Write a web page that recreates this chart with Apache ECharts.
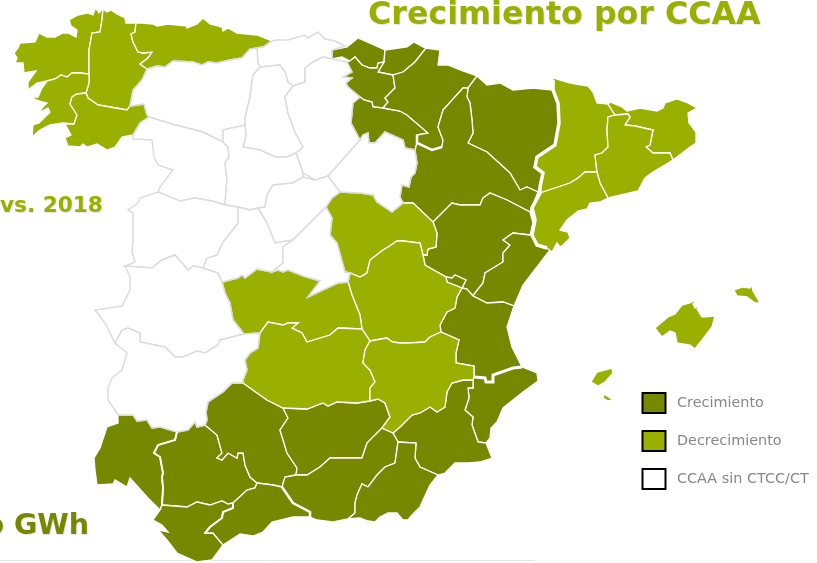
<!DOCTYPE html>
<html>
<head>
<meta charset="utf-8">
<style>html,body{margin:0;padding:0;background:#fff}#chart{width:817px;height:563px}</style>
<script src="https://cdn.jsdelivr.net/npm/echarts@6/dist/echarts.min.js"></script>
</head>
<body>
<div id="chart"></div>
<script>
const crecimiento = ['Bizkaia', 'Gipuzkoa', 'Álava', 'La Rioja', 'Navarra', 'Huesca', 'Zaragoza', 'Teruel', 'Castellón', 'Valencia', 'Rincón de Ademuz', 'Alicante', 'Murcia', 'Huelva', 'Sevilla', 'Córdoba', 'Jaén', 'Cádiz', 'Málaga', 'Granada', 'Almería']
const decrecimiento = ['A Coruña', 'Lugo', 'Asturias', 'Pontevedra', 'Ourense', 'Lleida', 'Girona', 'Barcelona', 'Tarragona', 'Mallorca', 'Menorca', 'Ibiza', 'Formentera', 'Guadalajara', 'Cuenca', 'Toledo', 'Ciudad Real', 'Albacete']
const sinCtcc = ['Cantabria', 'León', 'Palencia', 'Burgos', 'Soria', 'Zamora', 'Valladolid', 'Segovia', 'Ávila', 'Salamanca', 'Madrid', 'Cáceres', 'Badajoz']
const legendLabels = ['Crecimiento', 'Decrecimiento', 'CCAA sin CTCC/CT']

// contornos de provincias (calcados en pixeles)
const coruna = [[95,9],[93,15],[87,13],[78,15],[69,20],[71,26],[77,30],[76,37],[68,33],[63,33],[55,37],[47,37],[39,33],[35,42],[20,43],[18,48],[14,53],[17,58],[15,63],[23,63],[24,73],[36,71],[28,82],[28,90],[37,83],[47,81],[55,79],[61,75],[67,77],[72,73],[80,73],[89,74],[89,68],[89,50],[92,33],[100,32],[102,20],[103,8],[99,13],[97,10]]
const lugo = [[103,9],[107,12],[111,10],[117,14],[125,18],[126,23],[136,23],[135,32],[131,34],[133,42],[138,52],[143,53],[152,52],[148,58],[140,64],[147,69],[142,80],[133,90],[130,106],[127,110],[110,107],[98,105],[88,98],[86,93],[89,83],[89,74],[89,68],[89,50],[92,33],[100,32],[102,20]]
const asturias = [[136,23],[142,23],[153,24],[157,26],[168,24],[187,26],[187,28],[197,24],[203,18],[210,24],[222,27],[223,31],[228,28],[237,33],[257,35],[272,41],[263,47],[257,48],[250,49],[242,58],[230,60],[217,63],[208,62],[202,65],[193,62],[173,61],[165,67],[157,66],[147,69],[140,64],[148,58],[152,52],[143,53],[138,52],[133,42],[131,34],[135,32]]
const pontevedra = [[47,81],[55,79],[61,75],[67,77],[72,73],[80,73],[89,74],[89,83],[86,93],[77,94],[72,97],[70,104],[77,115],[74,124],[63,123],[50,125],[40,130],[32,137],[33,125],[39,123],[45,117],[50,112],[48,108],[38,113],[43,107],[47,103],[39,101],[30,97],[38,97],[42,88]]
const ourense = [[86,93],[88,98],[98,105],[110,107],[127,110],[130,106],[144,104],[147,115],[149,117],[140,123],[133,135],[122,137],[115,147],[107,150],[97,144],[87,147],[83,144],[80,147],[68,146],[65,138],[71,135],[65,124],[74,124],[77,115],[70,104],[72,97],[77,94]]
const cantabria = [[272,41],[277,40],[288,40],[305,35],[308,38],[318,32],[325,39],[335,41],[345,46],[332,50],[332,59],[323,57],[313,62],[305,68],[305,82],[293,86],[288,82],[285,72],[280,65],[260,67],[258,63],[257,48],[263,47]]
const leon = [[147,69],[157,66],[165,67],[173,61],[193,62],[202,65],[208,62],[217,63],[230,60],[242,58],[250,49],[257,48],[258,63],[260,67],[253,75],[250,97],[245,118],[245,125],[223,130],[223,142],[213,137],[203,132],[172,124],[149,117],[147,115],[144,104],[130,106],[133,90],[142,80]]
const palencia = [[260,67],[280,65],[285,72],[288,82],[293,86],[285,97],[288,113],[295,132],[303,147],[296,153],[287,157],[275,157],[260,150],[243,147],[246,135],[245,125],[245,118],[250,97],[253,75]]
const burgos = [[293,86],[305,82],[305,68],[313,62],[323,57],[332,59],[347,62],[352,72],[343,77],[352,78],[346,83],[348,87],[360,97],[353,103],[351,123],[360,140],[345,157],[328,176],[315,180],[303,173],[296,153],[303,147],[295,132],[288,113],[285,97]]
const soria = [[360,140],[363,135],[368,133],[369,143],[375,143],[385,132],[403,140],[405,148],[415,150],[417,163],[415,173],[411,177],[409,187],[402,185],[400,197],[403,203],[392,212],[377,202],[373,195],[360,193],[340,192],[328,176],[345,157]]
const zamora = [[149,117],[172,124],[203,132],[213,137],[223,142],[228,147],[229,157],[225,163],[227,180],[226,190],[225,205],[212,201],[195,198],[190,199],[180,201],[158,192],[160,187],[173,170],[158,165],[154,157],[152,140],[133,139],[133,135],[140,123]]
const valladolid = [[223,130],[245,125],[246,135],[243,147],[260,150],[275,157],[287,157],[296,153],[303,173],[303,177],[293,183],[273,185],[267,195],[265,207],[258,208],[250,210],[238,207],[225,205],[226,190],[227,180],[225,163],[229,157],[228,147],[223,142]]
const segovia = [[258,208],[265,207],[267,195],[273,185],[293,183],[303,177],[315,180],[328,176],[340,192],[332,198],[326,207],[293,240],[275,243],[267,223]]
const avila = [[238,207],[250,210],[258,208],[267,223],[275,243],[293,240],[283,247],[283,263],[272,272],[262,270],[257,269],[245,278],[242,275],[238,278],[222,282],[218,273],[203,268],[207,258],[217,255],[223,242],[238,223]]
const madrid = [[293,240],[326,207],[332,218],[330,235],[337,243],[345,272],[350,273],[348,282],[338,283],[323,290],[308,297],[320,281],[303,276],[288,270],[283,272],[278,270],[272,272],[283,263],[283,247]]
const salamanca = [[158,192],[180,201],[190,199],[195,198],[212,201],[225,205],[238,207],[238,223],[223,242],[217,255],[207,258],[203,268],[193,266],[188,270],[175,255],[162,260],[152,268],[125,266],[135,262],[132,252],[133,240],[133,213],[128,210],[138,203],[140,198]]
const caceres = [[125,266],[152,268],[162,260],[175,255],[188,270],[193,266],[203,268],[218,273],[222,282],[225,293],[230,303],[233,320],[244,334],[220,340],[218,345],[205,353],[197,351],[183,357],[175,357],[165,347],[140,342],[140,333],[128,328],[122,330],[115,343],[105,323],[95,310],[122,306],[130,290],[130,277]]
const badajoz = [[115,343],[122,330],[128,328],[140,333],[140,342],[165,347],[175,357],[183,357],[197,351],[205,353],[218,345],[220,340],[244,334],[260,333],[258,348],[250,353],[245,360],[247,370],[243,380],[243,383],[232,383],[223,392],[208,402],[206,412],[207,420],[205,425],[197,427],[195,422],[188,430],[177,432],[160,427],[152,428],[147,420],[137,421],[133,415],[125,415],[118,415],[113,407],[108,400],[108,388],[112,378],[122,370],[127,353]]
const toledo = [[222,282],[238,278],[242,275],[245,278],[257,269],[262,270],[272,272],[278,270],[283,272],[288,270],[303,276],[320,281],[308,297],[323,290],[338,283],[348,282],[352,295],[360,315],[362,329],[338,328],[330,335],[307,342],[302,333],[292,328],[298,323],[288,323],[283,325],[268,322],[260,333],[244,334],[233,320],[230,303],[225,293]]
const ciudadReal = [[260,333],[268,322],[283,325],[288,323],[298,323],[292,328],[302,333],[307,342],[330,335],[338,328],[362,329],[370,341],[365,350],[363,363],[370,370],[375,382],[370,388],[370,401],[357,403],[337,402],[328,406],[323,403],[307,409],[283,408],[267,400],[250,388],[243,383],[243,380],[247,370],[245,360],[250,353],[258,348]]
const guadalajara = [[326,207],[332,198],[340,192],[360,193],[373,195],[377,202],[392,212],[403,203],[413,203],[433,222],[437,233],[436,247],[428,249],[427,255],[423,255],[420,243],[403,241],[397,241],[388,247],[383,250],[370,260],[367,273],[360,277],[350,273],[345,272],[337,243],[330,235],[332,218]]
const cuenca = [[423,255],[425,265],[446,277],[447,282],[462,288],[457,297],[455,308],[447,312],[440,325],[441,332],[430,337],[425,342],[408,343],[400,343],[392,342],[387,338],[370,341],[362,329],[360,315],[352,295],[348,282],[350,273],[360,277],[367,273],[370,260],[383,250],[388,247],[397,241],[403,241],[420,243]]
const albacete = [[370,341],[387,338],[392,342],[400,343],[408,343],[425,342],[430,337],[441,332],[459,340],[456,353],[456,363],[474,366],[474,377],[473,380],[463,380],[452,383],[447,392],[445,407],[437,412],[430,407],[420,413],[412,415],[400,427],[393,433],[382,428],[390,417],[385,403],[378,399],[370,401],[370,388],[375,382],[370,370],[363,363],[365,350]]
const bizkaia = [[332,50],[347,47],[358,38],[367,42],[385,50],[384,62],[378,63],[377,68],[370,68],[362,65],[355,57],[350,61],[342,57],[332,59]]
const gipuzkoa = [[385,50],[407,47],[414,42],[423,47],[426,48],[415,62],[403,72],[393,75],[378,72],[384,62]]
const alava = [[355,57],[362,65],[370,68],[377,68],[378,63],[384,62],[378,72],[393,75],[395,88],[385,98],[388,102],[383,108],[373,107],[372,102],[364,100],[360,97],[348,87],[346,83],[352,78],[343,77],[352,72],[347,62],[350,61]]
const laRioja = [[360,97],[353,103],[351,123],[360,140],[363,135],[368,133],[369,143],[375,143],[385,132],[403,140],[405,148],[415,150],[417,143],[417,135],[428,133],[407,115],[400,111],[383,108],[373,107],[372,102],[364,100]]
const navarra = [[426,48],[440,50],[438,65],[448,65],[460,70],[477,76],[468,88],[463,88],[443,110],[438,127],[443,140],[442,147],[432,150],[417,143],[417,135],[428,133],[407,115],[400,111],[383,108],[388,102],[385,98],[395,88],[393,75],[403,72],[415,62]]
const huesca = [[477,76],[487,85],[500,83],[513,90],[533,88],[553,90],[558,103],[559,123],[555,145],[537,157],[535,167],[543,173],[540,187],[538,192],[527,187],[520,190],[510,173],[498,162],[487,152],[468,143],[473,133],[472,120],[470,103],[467,97],[468,88]]
const zaragoza = [[415,150],[417,143],[432,150],[442,147],[443,140],[438,127],[443,110],[463,88],[468,88],[467,97],[470,103],[472,120],[473,133],[468,143],[487,152],[498,162],[510,173],[520,190],[527,187],[538,192],[530,212],[507,200],[490,193],[483,198],[480,205],[460,205],[452,203],[440,215],[433,222],[413,203],[403,203],[400,197],[402,185],[409,187],[411,177],[415,173],[417,163]]
const teruel = [[433,222],[440,215],[452,203],[460,205],[480,205],[483,198],[490,193],[507,200],[530,212],[533,223],[530,235],[513,233],[503,240],[510,245],[503,253],[503,262],[485,273],[483,283],[475,293],[473,296],[467,289],[462,288],[466,280],[455,275],[452,278],[446,277],[425,265],[423,255],[427,255],[428,249],[436,247],[437,233]]
const ademuz = [[446,277],[452,278],[455,275],[466,280],[462,288],[447,282]]
const castellon = [[530,235],[513,233],[503,240],[510,245],[503,253],[503,262],[485,273],[483,283],[475,293],[473,296],[487,303],[503,302],[514,306],[523,285],[540,263],[550,250],[547,248],[537,245],[532,235]]
const valencia = [[462,288],[467,289],[473,296],[487,303],[503,302],[514,306],[507,327],[512,347],[522,367],[513,368],[493,375],[493,382],[486,382],[485,378],[474,377],[474,366],[456,363],[456,353],[459,340],[441,332],[440,325],[447,312],[455,308],[457,297]]
const alicante = [[522,367],[537,373],[538,381],[523,392],[503,408],[497,422],[491,428],[490,438],[486,443],[478,442],[472,425],[473,417],[465,410],[469,398],[468,388],[473,388],[473,380],[474,377],[485,378],[486,382],[493,382],[493,375],[513,368]]
const murcia = [[473,380],[473,388],[468,388],[469,398],[465,410],[473,417],[472,425],[478,442],[486,443],[492,458],[480,462],[468,463],[455,463],[445,473],[438,475],[420,467],[415,458],[416,443],[398,442],[393,433],[400,427],[412,415],[420,413],[430,407],[437,412],[445,407],[447,392],[452,383],[463,380]]
const jaen = [[283,408],[307,409],[323,403],[328,406],[337,402],[357,403],[370,401],[378,399],[385,403],[390,417],[382,428],[367,443],[362,458],[347,458],[330,458],[320,467],[307,475],[296,475],[297,468],[287,453],[280,430],[288,418]]
const granada = [[382,428],[393,433],[398,442],[395,463],[385,467],[377,475],[368,487],[362,484],[357,495],[355,503],[355,513],[348,519],[333,522],[317,520],[310,517],[310,512],[293,503],[282,487],[285,477],[296,475],[307,475],[320,467],[330,458],[347,458],[362,458],[367,443]]
const almeria = [[398,442],[416,443],[415,458],[420,467],[438,475],[430,485],[423,500],[420,507],[412,515],[408,520],[403,520],[397,513],[388,513],[380,517],[375,522],[368,521],[360,518],[348,519],[355,513],[355,503],[357,495],[362,484],[368,487],[377,475],[385,467],[395,463]]
const cordoba = [[232,383],[243,383],[250,388],[267,400],[283,408],[288,418],[280,430],[287,453],[297,468],[296,475],[285,477],[282,487],[273,485],[257,483],[250,477],[245,465],[243,453],[238,453],[237,458],[228,453],[222,460],[217,458],[222,453],[217,435],[205,425],[207,420],[206,412],[208,402],[223,392]]
const sevilla = [[205,425],[217,435],[222,453],[217,458],[222,460],[228,453],[237,458],[238,453],[243,453],[245,465],[250,477],[257,483],[255,488],[247,490],[233,503],[228,504],[222,501],[210,505],[197,502],[187,507],[162,505],[163,488],[162,477],[163,473],[160,457],[154,453],[158,445],[175,440],[177,432],[188,430],[195,422],[197,427]]
const huelva = [[118,415],[125,415],[133,415],[137,421],[147,420],[152,428],[160,427],[177,432],[175,440],[158,445],[154,453],[160,457],[163,473],[162,477],[163,488],[162,505],[160,510],[148,498],[130,478],[127,487],[115,480],[113,484],[97,485],[95,470],[94,458],[100,448],[107,427],[118,423]]
const cadiz = [[162,505],[187,507],[197,502],[210,505],[222,501],[228,504],[233,503],[233,508],[223,512],[222,518],[210,527],[205,533],[213,533],[223,545],[212,560],[197,562],[177,553],[167,540],[158,530],[168,532],[162,525],[153,520],[160,510]]
const malaga = [[233,503],[247,490],[255,488],[257,483],[273,485],[282,487],[293,503],[310,512],[310,517],[293,517],[272,522],[263,532],[253,536],[240,534],[223,545],[213,533],[205,533],[210,527],[222,518],[223,512],[233,508]]
const lleida = [[553,78],[570,83],[588,86],[593,92],[597,103],[608,104],[615,115],[608,117],[607,130],[608,147],[602,153],[595,155],[597,172],[585,172],[578,178],[570,183],[555,188],[540,193],[538,192],[540,187],[543,173],[535,167],[537,157],[555,145],[559,123],[558,103],[553,90]]
const tarragona = [[540,193],[555,188],[570,183],[578,178],[585,172],[597,172],[600,183],[608,198],[600,202],[590,203],[587,209],[578,211],[567,220],[560,230],[568,232],[570,238],[563,245],[560,247],[557,243],[552,252],[547,248],[537,245],[532,235],[535,220],[532,208]]
const barcelona = [[608,117],[615,115],[628,114],[630,117],[625,125],[635,126],[653,130],[650,145],[646,147],[653,153],[670,153],[673,160],[653,172],[645,178],[638,191],[608,198],[600,183],[597,172],[595,155],[602,153],[608,147],[607,130]]
const girona = [[608,104],[610,102],[622,107],[627,111],[640,108],[657,111],[663,108],[665,103],[677,99],[688,103],[697,108],[688,113],[689,123],[696,132],[696,143],[690,147],[673,160],[670,153],[653,153],[646,147],[650,145],[653,130],[635,126],[625,125],[630,117],[628,114],[615,115]]
const mallorca = [[655,328],[668,317],[675,314],[682,305],[690,303],[697,299],[693,304],[695,308],[699,304],[697,309],[702,317],[715,316],[712,327],[702,340],[695,349],[690,345],[677,343],[675,333],[670,331],[662,337],[658,332]]
const menorca = [[734,290],[743,287],[750,288],[752,285],[753,291],[760,303],[755,303],[747,297],[737,296]]
const ibiza = [[591,382],[597,372],[612,368],[613,373],[605,382],[598,386]]
const formentera = [[603,398],[604,394],[613,400],[608,401]]

const shapes = {
  'A Coruña': coruna, 'Lugo': lugo, 'Asturias': asturias, 'Pontevedra': pontevedra, 'Ourense': ourense,
  'Cantabria': cantabria, 'León': leon, 'Palencia': palencia, 'Burgos': burgos, 'Soria': soria, 'Zamora': zamora,
  'Valladolid': valladolid, 'Segovia': segovia, 'Ávila': avila, 'Madrid': madrid, 'Salamanca': salamanca,
  'Cáceres': caceres, 'Badajoz': badajoz, 'Toledo': toledo, 'Ciudad Real': ciudadReal, 'Guadalajara': guadalajara,
  'Cuenca': cuenca, 'Albacete': albacete, 'Bizkaia': bizkaia, 'Gipuzkoa': gipuzkoa, 'Álava': alava,
  'La Rioja': laRioja, 'Navarra': navarra, 'Huesca': huesca, 'Zaragoza': zaragoza, 'Teruel': teruel,
  'Rincón de Ademuz': ademuz, 'Castellón': castellon, 'Valencia': valencia, 'Alicante': alicante, 'Murcia': murcia,
  'Jaén': jaen, 'Granada': granada, 'Almería': almeria, 'Córdoba': cordoba, 'Sevilla': sevilla, 'Huelva': huelva,
  'Cádiz': cadiz, 'Málaga': malaga, 'Lleida': lleida, 'Tarragona': tarragona, 'Barcelona': barcelona, 'Girona': girona,
  'Mallorca': mallorca, 'Menorca': menorca, 'Ibiza': ibiza, 'Formentera': formentera
}

// fronteras entre CCAA, mas gruesas
const fronteraAragon = [[553,80],[553,90],[558,103],[559,123],[555,145],[537,157],[535,167],[543,173],[540,187],[540,193],[532,208],[535,220],[532,235],[537,245],[547,248]]
const fronteraAlicante = [[522,367],[513,368],[493,375],[493,382],[486,382],[485,378],[474,377]]
const fronteraMalaga = [[282,487],[293,503],[310,512],[310,517]]
const fronteraHuelva = [[177,432],[175,440],[158,445],[154,453],[160,457],[163,473],[162,477],[163,488],[162,505]]
const fronteraCadiz = [[233,503],[233,508],[223,512],[222,518],[210,527],[205,533]]
const fronteraRioja = [[417,135],[417,143],[432,150],[442,147]]

const DARK = '#768700'
const LIGHT = '#99b000'

const ordered = crecimiento.concat(decrecimiento, sinCtcc)
echarts.registerMap('spain', {
  type: 'FeatureCollection',
  features: ordered.map(name => ({
    type: 'Feature',
    properties: { name },
    geometry: { type: 'Polygon', coordinates: [shapes[name].concat([shapes[name][0]])] }
  }))
})

function region(name, color, border, width) {
  return { name, itemStyle: { areaColor: color, borderColor: border, borderWidth: width } }
}

function legendItem(i, color) {
  const y = 393 + i * 38
  return [
    { type: 'rect', shape: { x: 642.5, y, width: 23, height: 20 }, style: { fill: color, stroke: '#000', lineWidth: 2 } },
    { type: 'text', x: 677, y: y + 10, style: { text: legendLabels[i], fill: '#888', font: '14.4px "DejaVu Sans"', textVerticalAlign: 'middle' } }
  ]
}

const titleShadow = { textShadowColor: 'rgba(0,0,0,0.12)', textShadowBlur: 1, textShadowOffsetX: 1, textShadowOffsetY: 1 }

const chart = echarts.init(document.getElementById('chart'), null, { renderer: 'canvas' })
chart.setOption({
  animation: false,
  backgroundColor: '#fff',
  geo: {
    map: 'spain',
    silent: true,
    roam: false,
    left: 0,
    top: 0,
    width: 817,
    height: 563,
    boundingCoords: [[0, 0], [817, 563]],
    projection: { project: p => p, unproject: p => p },
    itemStyle: { areaColor: '#fff', borderColor: '#dcdcdc', borderWidth: 1.5 },
    regions: [
      ...crecimiento.map(n => region(n, DARK, '#fff', 1.3)),
      ...decrecimiento.map(n => region(n, LIGHT, '#fff', 1.3)),
      ...sinCtcc.map(n => region(n, '#fff', '#dcdcdc', 1.5))
    ]
  },
  series: [{
    type: 'lines',
    coordinateSystem: 'geo',
    polyline: true,
    silent: true,
    z: 5,
    data: [
      { coords: fronteraAragon, lineStyle: { width: 3.5 } },
      { coords: fronteraAlicante, lineStyle: { width: 3 } },
      { coords: fronteraMalaga, lineStyle: { width: 2.5 } },
      { coords: fronteraHuelva, lineStyle: { width: 2 } },
      { coords: fronteraCadiz, lineStyle: { width: 2 } },
      { coords: fronteraRioja, lineStyle: { width: 2.5 } }
    ],
    lineStyle: { color: '#fff', opacity: 1, curveness: 0 }
  }],
  graphic: [
    { type: 'text', x: 368, y: 16, style: { text: 'Crecimiento por CCAA', fill: LIGHT, font: 'bold 31.7px "DejaVu Sans"', textVerticalAlign: 'middle', ...titleShadow } },
    { type: 'text', x: 0, y: 206, style: { text: 'vs. 2018', fill: LIGHT, font: 'bold 21.6px "DejaVu Sans"', textVerticalAlign: 'middle', ...titleShadow } },
    { type: 'text', x: 89, y: 527, style: { text: 'o GWh', fill: DARK, textAlign: 'right', font: 'bold 28.5px "DejaVu Sans"', textVerticalAlign: 'middle', ...titleShadow } },
    { type: 'line', shape: { x1: 0, y1: 560.5, x2: 535, y2: 560.5 }, style: { stroke: '#e4e4e4', lineWidth: 1 } },
    ...legendItem(0, DARK),
    ...legendItem(1, LIGHT),
    ...legendItem(2, '#fff')
  ]
})
</script>
</body>
</html>
